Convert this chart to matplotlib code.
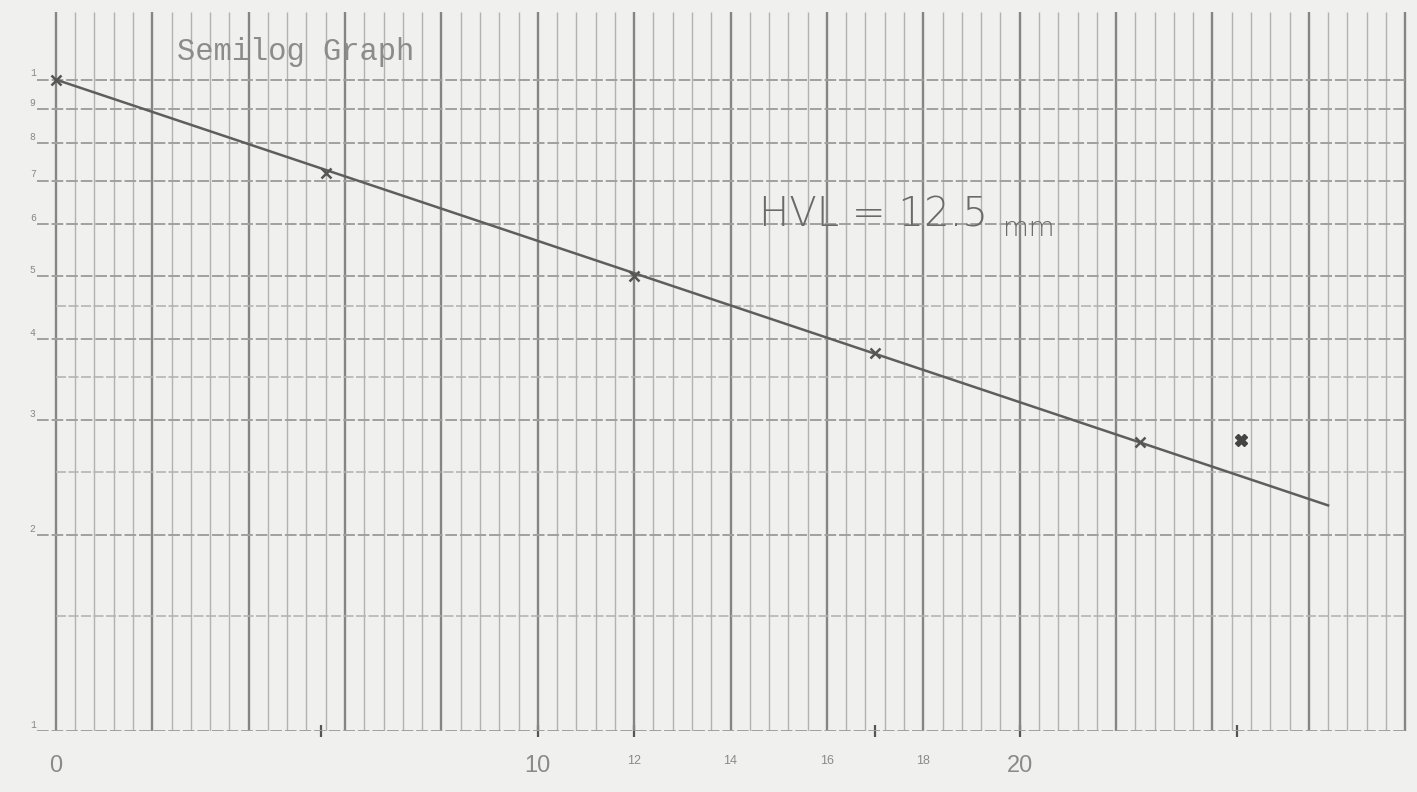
import numpy as np
import matplotlib
matplotlib.use("Agg")
import matplotlib.pyplot as plt

# measured points (thickness, relative intensity)
pts_x = [0, 5.6, 12, 17, 22.5]
pts_y = [10, 7.2, 5.0, 3.8, 2.78]
odd_x = [24.6]
odd_y = [2.8]

# hand drawn fit line
fit_x = [0, 26.4]
fit_y = [10, 2.22]

# graph paper rulings
major_levels = [1, 2, 3, 4, 5, 6, 7, 8, 9, 10]
half_levels = [1.5, 2.5, 3.5, 4.5]
ylabels = ["1", "2", "3", "4", "5", "6", "7", "8", "9", "1"]

xlabel_pos = [0, 10, 12, 14, 16, 18, 20]
xlabel_txt = ["0", "10", "12", "14", "16", "18", "20"]
xlabel_big = [True, True, False, False, False, False, True]
xmarks = [5.5, 10, 12, 17, 20, 24.5]

paper = "#f0f0ee"
fig = plt.figure(figsize=(14.17, 7.92), dpi=100, facecolor=paper)
ax = fig.add_axes([27 / 1417, 61 / 792, 1383 / 1417, 719 / 792])
ax.set_facecolor(paper)
ax.set_yscale("log")
ax.set_xlim(-0.6, 28.1)
ax.set_ylim(1, 12.7)
for s in ax.spines.values():
    s.set_visible(False)

# vertical rulings every 0.4, heavy every 2
vx = np.arange(0, 28.01, 0.4)
heavy = np.isclose(np.round(vx / 2) * 2, vx)
ax.vlines(vx[~heavy], 1, 12.7, color="#b2b2b2", lw=1.0)
ax.vlines(vx[heavy], 1, 12.7, color="#858585", lw=1.7)

# horizontal rulings
ax.hlines(major_levels, -0.4, 28, color="#a0a0a0", lw=1.4, linestyles=(0, (6, 1.5)))
ax.hlines(half_levels, 0, 28, color="#b4b4b4", lw=1.2, linestyles=(0, (6, 1.5)))

for lev, lab in zip(major_levels, ylabels):
    ax.text(-0.42, lev * 1.004, lab, ha="right", va="bottom", fontsize=7,
            family="Liberation Mono", color="#888888")

# fit line and points
ax.plot(fit_x, fit_y, color="#5e5e5e", lw=1.8)
ax.plot(pts_x, pts_y, ls="none", marker="x", ms=7, mew=1.8, color="#555555")
ax.plot(odd_x, odd_y, ls="none", marker="X", ms=8, color="#444444")

ax.text(4.98, 11.04, "Semilog Graph", ha="center", va="center", fontsize=22,
        family="Liberation Mono", color="#8c8c8c")
ax.text(14.6, 6.2, "HVL = 12.5", ha="left", va="center", fontsize=29,
        family="DejaVu Sans", color="#6a6a6a", fontweight="light")
ax.text(19.65, 5.9, "mm", ha="left", va="center", fontsize=19,
        family="DejaVu Sans", color="#6a6a6a", fontweight="light")

# x axis labels
ax.xaxis.remove_overlapping_locs = False
ax.set_xticks(xlabel_pos)
ax.set_xticklabels(xlabel_txt, family="Liberation Sans", color="#8a8a8a")
for t, big in zip(ax.get_xticklabels(), xlabel_big):
    t.set_fontsize(17 if big else 9)
ax.set_xticks(xmarks, minor=True)
ax.tick_params(axis="x", which="major", length=0, pad=17)
ax.tick_params(axis="x", which="minor", length=8, width=1.6, direction="inout", color="#555555")
ax.set_yticks([])
ax.set_yticks([], minor=True)

fig.savefig("out.png", dpi=100, facecolor=paper)
